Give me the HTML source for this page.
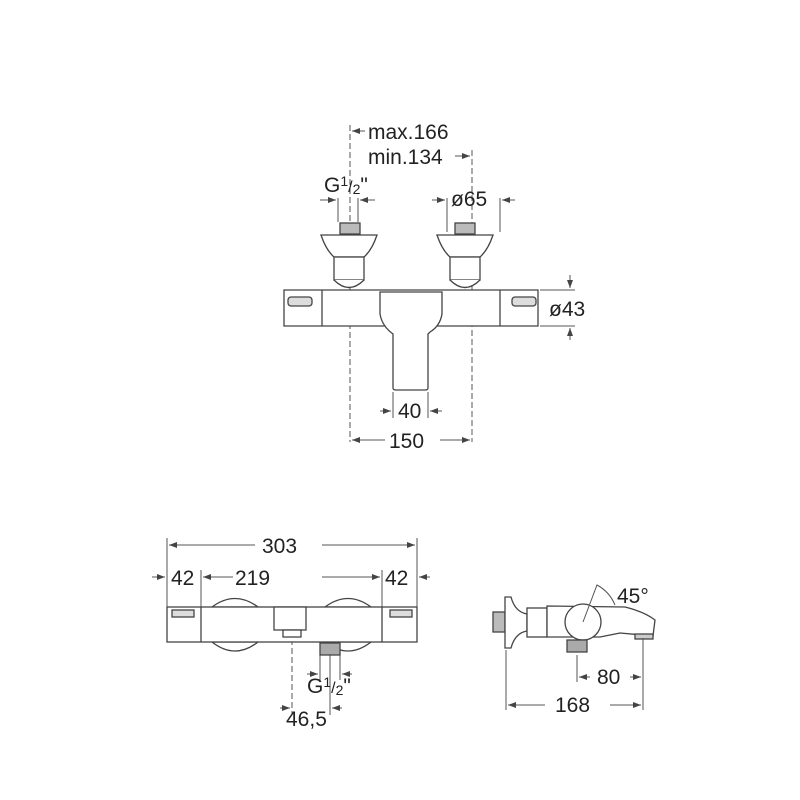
<!DOCTYPE html>
<html><head><style>html,body{margin:0;padding:0;background:#fff}svg{display:block}text{font-family:"Liberation Sans",Arial,sans-serif;fill:#222;font-size:21px}</style></head>
<body>
<svg width="800" height="800" viewBox="0 0 800 800" xmlns="http://www.w3.org/2000/svg">
<defs><marker id="a" markerWidth="8" markerHeight="6" refX="8" refY="3" orient="auto"><path d="M0,0 L8,3 L0,6 z" fill="#444"/></marker></defs>
<g stroke="#555" stroke-width="1" fill="none">
<line x1="350" y1="125" x2="350" y2="442" stroke-dasharray="6,3"/>
<line x1="472" y1="150" x2="472" y2="442" stroke-dasharray="6,3"/>
<line x1="365" y1="131" x2="352" y2="131" marker-end="url(#a)"/>
<line x1="455" y1="156" x2="470" y2="156" marker-end="url(#a)"/>
<line x1="338" y1="198" x2="338" y2="222"/><line x1="358" y1="198" x2="358" y2="222"/>
<line x1="320" y1="200" x2="336" y2="200" marker-end="url(#a)"/><line x1="375" y1="200" x2="360" y2="200" marker-end="url(#a)"/>
<line x1="447" y1="198" x2="447" y2="232"/><line x1="500" y1="198" x2="500" y2="232"/>
<line x1="432" y1="200" x2="445" y2="200" marker-end="url(#a)"/><line x1="515" y1="200" x2="502" y2="200" marker-end="url(#a)"/>
</g>
<g stroke="#444" stroke-width="1.3" fill="#fff">
<rect x="340" y="223" width="20" height="11" fill="#bbb"/>
<rect x="455" y="223" width="20" height="11" fill="#bbb"/>
<path d="M321,235 L377,235 Q372,250 364,257 L334,257 Q326,250 321,235 Z"/>
<path d="M437,235 L493,235 Q488,250 480,257 L450,257 Q442,250 437,235 Z"/>
<rect x="334" y="257" width="30" height="23"/>
<rect x="450" y="257" width="30" height="23"/>
<path d="M284,290 L538,290 L538,326 L284,326 Z"/>
<line x1="322" y1="290" x2="322" y2="326"/><line x1="500" y1="290" x2="500" y2="326"/>
<path d="M334,280 Q349,295 364,280"/>
<path d="M450,280 Q465,295 480,280"/>
<path d="M380,292 L442,292 L442,314 Q440,326 430,332 L428,334 L428,388 Q428,390 425,390 L396,390 Q393,390 393,388 L393,334 Q382,326 380,314 Z"/>
<rect x="288" y="297" width="24" height="9" rx="3" fill="#ddd"/>
<rect x="512" y="297" width="24" height="9" rx="3" fill="#ddd"/>
</g>
<g stroke="#555" stroke-width="1" fill="none">
<line x1="540" y1="290" x2="575" y2="290"/><line x1="540" y1="326" x2="575" y2="326"/>
<line x1="570" y1="275" x2="570" y2="288" marker-end="url(#a)"/><line x1="570" y1="340" x2="570" y2="328" marker-end="url(#a)"/>
<line x1="393" y1="392" x2="393" y2="418"/><line x1="428" y1="392" x2="428" y2="418"/>
<line x1="380" y1="411" x2="391" y2="411" marker-end="url(#a)"/><line x1="442" y1="411" x2="430" y2="411" marker-end="url(#a)"/>
<line x1="385" y1="440" x2="352" y2="440" marker-end="url(#a)"/><line x1="440" y1="440" x2="470" y2="440" marker-end="url(#a)"/>
</g>
<text x="368" y="139">max.166</text>
<text x="368" y="164">min.134</text>
<text x="324" y="192">G<tspan font-size="14" dy="-6">1</tspan><tspan font-size="16" dy="6">/</tspan><tspan font-size="14" dy="2">2</tspan><tspan dy="-2">"</tspan></text>
<text x="451" y="206">ø65</text>
<text x="549" y="316">ø43</text>
<text x="398" y="418">40</text>
<text x="389" y="448">150</text>

<g stroke="#555" stroke-width="1" fill="none">
<line x1="167" y1="538" x2="167" y2="607"/><line x1="417" y1="538" x2="417" y2="607"/>
<line x1="201" y1="570" x2="201" y2="607"/><line x1="382" y1="570" x2="382" y2="607"/>
<line x1="255" y1="545" x2="169" y2="545" marker-end="url(#a)"/><line x1="322" y1="545" x2="415" y2="545" marker-end="url(#a)"/>
<line x1="152" y1="577" x2="165" y2="577" marker-end="url(#a)"/><line x1="430" y1="577" x2="419" y2="577" marker-end="url(#a)"/>
<line x1="233" y1="577" x2="203" y2="577" marker-end="url(#a)"/><line x1="322" y1="577" x2="380" y2="577" marker-end="url(#a)"/>
<line x1="292" y1="612" x2="292" y2="715" stroke-dasharray="6,3"/>
<line x1="320" y1="655" x2="320" y2="680"/><line x1="330" y1="655" x2="330" y2="715"/><line x1="340" y1="655" x2="340" y2="680"/>
<line x1="307" y1="674" x2="318" y2="674" marker-end="url(#a)"/><line x1="352" y1="674" x2="342" y2="674" marker-end="url(#a)"/>
<line x1="280" y1="708" x2="290" y2="708" marker-end="url(#a)"/><line x1="342" y1="708" x2="332" y2="708" marker-end="url(#a)"/>
</g>
<g stroke="#444" stroke-width="1.3" fill="#fff">
<path d="M212,607 Q235,590 258,607 Z"/><path d="M325,607 Q348,590 371,607 Z"/>
<path d="M212,642 Q235,660 258,642 Z"/><path d="M325,642 Q348,660 371,642 Z"/>
<rect x="167" y="607" width="250" height="35"/>
<line x1="201" y1="607" x2="201" y2="642"/><line x1="382" y1="607" x2="382" y2="642"/>
<rect x="274" y="607" width="32" height="23"/>
<rect x="283" y="630" width="18" height="7"/>
<rect x="320" y="643" width="20" height="12" fill="#aaa"/>
<rect x="172" y="610" width="22" height="7" fill="#ddd"/><rect x="390" y="610" width="22" height="7" fill="#ddd"/>
</g>
<text x="262" y="553">303</text>
<text x="171" y="585">42</text>
<text x="235" y="585">219</text>
<text x="385" y="585">42</text>
<text x="307" y="693">G<tspan font-size="14" dy="-6">1</tspan><tspan font-size="16" dy="6">/</tspan><tspan font-size="14" dy="2">2</tspan><tspan dy="-2">"</tspan></text>
<text x="286" y="726">46,5</text>

<g stroke="#444" stroke-width="1.3" fill="#fff">
<rect x="493" y="612" width="12" height="20" fill="#bbb"/>
<path d="M505,597 L511,597 Q515,612 527,614 L527,631 Q515,633 511,648 L505,648 Z"/>
<rect x="527" y="608" width="20" height="29"/>
<path d="M547,606 L625,607 Q645,612 655,620 L653,636 L620,633 L600,637 L547,637 Z"/>
<circle cx="583" cy="622" r="18"/>
<rect x="567" y="640" width="20" height="12" fill="#aaa"/>
<rect x="635" y="634" width="18" height="5" fill="#ccc"/>
</g>
<g stroke="#555" stroke-width="1" fill="none">
<path d="M583,622 L597,585 A40,40 0 0 1 615,605"/>
<line x1="577" y1="655" x2="577" y2="682"/><line x1="643" y1="638" x2="643" y2="710"/>
<line x1="506" y1="650" x2="506" y2="710"/>
<line x1="590" y1="677" x2="579" y2="677" marker-end="url(#a)"/><line x1="630" y1="677" x2="641" y2="677" marker-end="url(#a)"/>
<line x1="545" y1="705" x2="508" y2="705" marker-end="url(#a)"/><line x1="610" y1="705" x2="641" y2="705" marker-end="url(#a)"/>
</g>
<text x="617" y="603">45°</text>
<text x="597" y="684">80</text>
<text x="555" y="712">168</text>
</svg>
</body></html>
